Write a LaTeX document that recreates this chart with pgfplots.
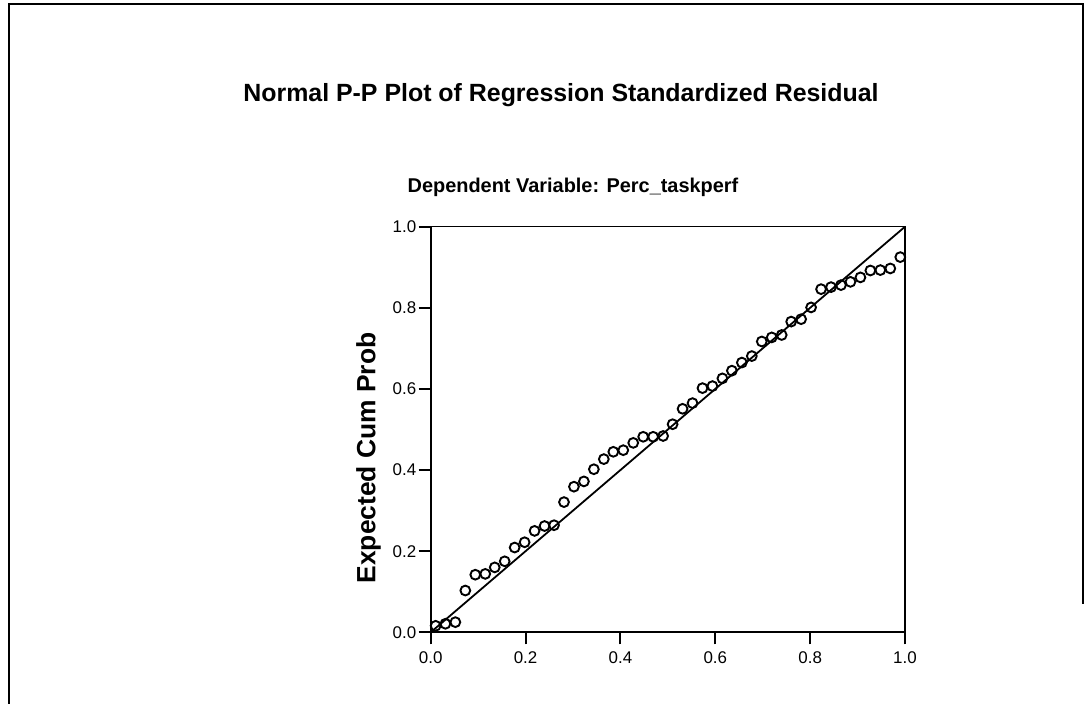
\documentclass[border=0pt]{standalone}
\usepackage{pgfplots}
\pgfplotsset{compat=1.18}
\usepackage{fontspec}
\setmainfont{Liberation Sans}
\begin{document}
\begin{tikzpicture}[x=1bp,y=1bp]
\useasboundingbox (0,0) rectangle (1088,704);
\draw[line width=1.6bp] (9,0) -- (9,700) -- (1083,700) -- (1083,100);
\node[font=\bfseries\fontsize{25}{28}\selectfont] at (561,609) {Normal P-P Plot of Regression Standardized Residual};
\node[font=\bfseries\fontsize{20}{23}\selectfont] at (573,517) {Dependent Variable: Perc\_taskperf};
\begin{axis}[
  at={(430.7bp,71.7bp)}, anchor=origin,
  scale only axis, width=474.3bp, height=405.6bp,
  xmin=0, xmax=1, ymin=0, ymax=1,
  xtick={0,0.2,0.4,0.6,0.8,1.0}, ytick={0,0.2,0.4,0.6,0.8,1.0},
  xticklabels={0.0,0.2,0.4,0.6,0.8,1.0},
  yticklabels={0.0,0.2,0.4,0.6,0.8,1.0},
  xtick pos=bottom, ytick pos=left,
  tick align=outside, major tick length=12bp,
  xtick style={line width=2bp, black},
  ytick style={line width=1.8bp, black},
  xticklabel style={font=\fontsize{17}{19}\selectfont, yshift=-4bp},
  yticklabel style={font=\fontsize{17}{19}\selectfont, xshift=1bp},
  axis line style={line width=1.6bp},
  ylabel={Expected Cum Prob},
  ylabel style={font=\bfseries\fontsize{26.5}{29}\selectfont, at={(axis description cs:-0.131,0.43)}, anchor=center},
  clip=false,
]
\addplot[black, line width=1.8bp] coordinates {(0,0) (1,1)};
\addplot[only marks, mark=o, mark size=4.9bp, mark options={line width=1.9bp, black}] coordinates {
(0.0104,0.016) (0.031,0.021) (0.052,0.025) (0.073,0.103) (0.094,0.142)
(0.115,0.144) (0.135,0.160) (0.156,0.175) (0.177,0.209) (0.198,0.222)
(0.219,0.250) (0.240,0.262) (0.260,0.264) (0.281,0.321) (0.302,0.359)
(0.323,0.372) (0.344,0.402) (0.365,0.427) (0.385,0.445) (0.406,0.449)
(0.427,0.467) (0.448,0.482) (0.469,0.482) (0.490,0.484) (0.510,0.513)
(0.531,0.551) (0.552,0.565) (0.573,0.602) (0.594,0.607) (0.615,0.626)
(0.635,0.645) (0.656,0.665) (0.677,0.681) (0.698,0.717) (0.719,0.727)
(0.740,0.733) (0.760,0.766) (0.781,0.772) (0.802,0.801) (0.823,0.846)
(0.844,0.851) (0.865,0.856) (0.885,0.864) (0.906,0.875) (0.927,0.892)
(0.948,0.893) (0.969,0.897) (0.990,0.925)
};
\end{axis}
\end{tikzpicture}
\end{document}
